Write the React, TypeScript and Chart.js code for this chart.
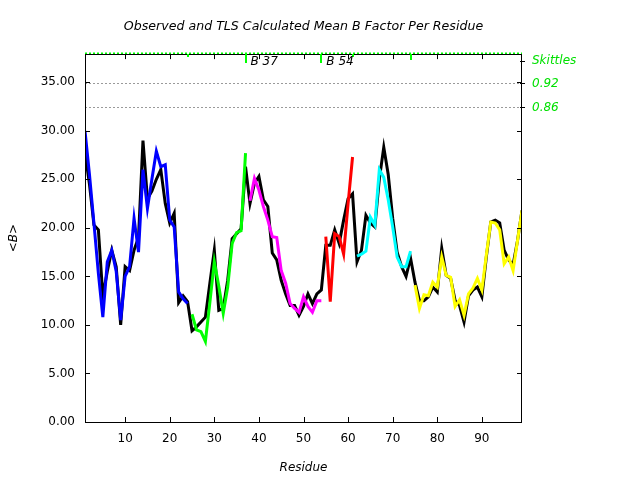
import React, { useEffect, useRef } from "react";
import { Chart, registerables } from "chart.js";

Chart.register(...registerables);

const TITLE = "Observed and TLS Calculated Mean B Factor Per Residue";
const X_TITLE = "Residue";
const Y_TITLE = "<B>";
const X_TICKS = [10, 20, 30, 40, 50, 60, 70, 80, 90];
const Y_TICKS = [0, 5, 10, 15, 20, 25, 30, 35];
const X_MIN = 1;
const X_MAX = 99;
const Y_MIN = 0;
const Y_MAX = 37.9;

// Observed mean B per residue (black), residues 1..99
const OBSERVED_START = 1;
const OBSERVED = [
  27.8, 24.5, 20.3, 19.8, 13.0, 15.5, 17.7, 16.0, 10.0, 16.0,
  15.6, 17.7, 19.0, 29.0, 23.0, 23.8, 25.0, 26.0, 22.5, 20.5,
  21.5, 12.3, 13.0, 12.4, 9.4, 9.8, 10.3, 10.8, 14.3, 17.7,
  11.5, 11.7, 14.6, 18.9, 19.4, 19.9, 26.3, 22.5, 24.6, 25.3,
  22.9, 22.2, 17.4, 16.7, 14.6, 13.2, 12.0, 12.0, 11.0, 11.9,
  13.2, 12.2, 13.2, 13.6, 18.2, 18.2, 19.8, 18.4, 20.8, 23.0,
  23.5, 16.5, 17.7, 21.3, 20.5, 20.1, 25.0, 28.3, 25.5, 21.0,
  17.5, 16.0, 15.0, 16.9, 14.4, 12.5, 12.5, 12.9, 13.9, 13.4,
  17.9, 15.1, 14.8, 12.5, 12.0, 10.3, 13.0, 13.6, 13.9, 12.9,
  17.0, 20.6, 20.8, 20.5, 17.7, 16.7, 16.2, 18.7, 21.8,
];

// TLS calculated mean B, one array per TLS segment
const BLUE_START = 1;
const BLUE = [
  30.0, 25.5, 20.5, 15.3, 10.8, 16.5, 17.7, 15.5, 10.5, 15.0,
  16.0, 21.0, 17.5, 26.0, 22.0, 25.0, 27.9, 26.3, 26.5, 20.8,
  20.1, 13.4, 12.7, 12.2,
];
const GREEN_START = 25;
const GREEN = [11.1, 9.5, 9.3, 8.3, 12.3, 16.5, 14.0, 11.2, 13.9, 18.4, 19.5, 19.7, 27.7];
const MAGENTA_START = 38;
const MAGENTA = [22.8, 25.1, 23.9, 22.2, 20.8, 19.1, 19.0, 15.6, 14.3, 12.2, 11.7, 11.3, 12.9, 11.9, 11.3, 12.5, 12.5];
const RED_START = 55;
const RED = [19.1, 12.4, 19.4, 19.1, 17.3, 22.5, 27.3];
const CYAN_START = 62;
const CYAN = [17.1, 17.3, 17.6, 21.1, 20.3, 26.0, 25.2, 22.9, 20.1, 17.0, 16.0, 16.0, 17.6];
const YELLOW_START = 75;
const YELLOW = [
  14.1, 11.7, 13.1, 13.0, 14.4, 13.9, 17.0, 15.1, 14.9, 11.9,
  12.6, 11.0, 13.2, 13.8, 14.8, 13.6, 17.2, 20.6, 20.5, 19.8,
  16.3, 17.0, 15.6, 18.7, 21.8,
];

// Skittles reference lines and segment boundary markers
const SKITTLES_LABEL = "Skittles";
const SKITTLES_LEVELS = [34.9, 32.5];
const SKITTLES_TEXT = ["0.92", "0.86"];
const MARKER_RESIDUES = [24, 37, 54, 61, 74];
const MARKER_LABELS = ["", "B 37", "B 54", "", ""];
const MARKER_LENGTHS = [3, 9, 9, 3, 6];

const FONT = "DejaVu Sans";
const GREEN_TXT = "#00e000";

const toPoints = (start: number, vals: number[]) => vals.map((v, i) => ({ x: start + i, y: v }));

const decor = {
  id: "decor",
  beforeDatasetsDraw(chart: any) {
    const { ctx, chartArea: a, scales } = chart;
    const y = scales.y;
    ctx.save();
    ctx.strokeStyle = "#9a9a9a";
    ctx.lineWidth = 1;
    ctx.setLineDash([2, 2]);
    SKITTLES_LEVELS.forEach((v) => {
      const py = Math.round(y.getPixelForValue(v)) + 0.5;
      ctx.beginPath();
      ctx.moveTo(a.left, py);
      ctx.lineTo(a.right, py);
      ctx.stroke();
    });
    ctx.restore();
  },
  afterDatasetsDraw(chart: any) {
    const { ctx, chartArea: a, scales } = chart;
    const x = scales.x;
    const y = scales.y;
    ctx.save();
    // green dotted top line (just above the frame)
    ctx.strokeStyle = "#00ff00";
    ctx.lineWidth = 1.5;
    ctx.setLineDash([2, 2]);
    ctx.beginPath();
    ctx.moveTo(a.left, Math.round(a.top) - 0.75);
    ctx.lineTo(a.right, Math.round(a.top) - 0.75);
    ctx.stroke();
    ctx.setLineDash([]);
    // frame
    ctx.strokeStyle = "#000";
    ctx.lineWidth = 1;
    ctx.strokeRect(Math.round(a.left) + 0.5, Math.round(a.top) + 0.5, Math.round(a.right - a.left) - 1, Math.round(a.bottom - a.top));
    // inward ticks
    ctx.beginPath();
    Y_TICKS.forEach((v) => {
      const py = Math.round(y.getPixelForValue(v)) + 0.5;
      ctx.moveTo(a.left, py);
      ctx.lineTo(a.left + 5, py);
      ctx.moveTo(a.right, py);
      ctx.lineTo(a.right - 5, py);
    });
    X_TICKS.forEach((v) => {
      const px = Math.round(x.getPixelForValue(v)) + 0.5;
      ctx.moveTo(px, a.bottom);
      ctx.lineTo(px, a.bottom - 5);
      ctx.moveTo(px, a.top);
      ctx.lineTo(px, a.top + 5);
    });
    // right axis small ticks
    const rightTickYs = [a.top + 7].concat(SKITTLES_LEVELS.map((v) => y.getPixelForValue(v)));
    rightTickYs.forEach((py) => {
      const p = Math.round(py) + 0.5;
      ctx.moveTo(a.right - 2, p);
      ctx.lineTo(a.right + 3, p);
    });
    ctx.stroke();
    // segment markers
    ctx.fillStyle = "#00ff00";
    MARKER_RESIDUES.forEach((m, i) => {
      const px = x.getPixelForValue(m);
      ctx.fillRect(Math.round(px) - 1, Math.round(a.top), 2, MARKER_LENGTHS[i]);
    });
    ctx.font = `italic 12px "${FONT}"`;
    ctx.fillStyle = "#000";
    ctx.textBaseline = "middle";
    ctx.textAlign = "left";
    MARKER_RESIDUES.forEach((m, i) => {
      if (!MARKER_LABELS[i]) return;
      const px = x.getPixelForValue(m);
      ctx.fillText(MARKER_LABELS[i], px + 5, a.top + 8);
    });
    // right labels
    ctx.fillStyle = GREEN_TXT;
    ctx.fillText(SKITTLES_LABEL, a.right + 10, a.top + 7);
    SKITTLES_LEVELS.forEach((v, i) => {
      ctx.fillText(SKITTLES_TEXT[i], a.right + 10, y.getPixelForValue(v) + 1);
    });
    ctx.restore();
  },
};

export default function App() {
  const ref = useRef<HTMLCanvasElement | null>(null);
  useEffect(() => {
    if (!ref.current) return;
    const seg = (label: string, color: string, start: number, vals: number[]) => ({
      label,
      data: toPoints(start, vals),
      borderColor: color,
      backgroundColor: color,
      borderWidth: 3,
      pointRadius: 0,
      tension: 0,
      fill: false,
      order: 1,
    });
    const chart = new Chart(ref.current, {
      type: "line",
      data: {
        datasets: [
          seg("TLS 1", "#0000ff", BLUE_START, BLUE),
          seg("TLS 2", "#00ff00", GREEN_START, GREEN),
          seg("TLS 3", "#ff00ff", MAGENTA_START, MAGENTA),
          seg("TLS 4", "#ff0000", RED_START, RED),
          seg("TLS 5", "#00ffff", CYAN_START, CYAN),
          seg("TLS 6", "#ffff00", YELLOW_START, YELLOW),
          {
            label: "Observed",
            data: toPoints(OBSERVED_START, OBSERVED),
            borderColor: "#000000",
            backgroundColor: "#000000",
            borderWidth: 3,
            pointRadius: 0,
            tension: 0,
            fill: false,
            order: 10,
          },
        ],
      },
      options: {
        responsive: false,
        animation: false,
        events: [],
        layout: { padding: { left: 0, right: 118, top: 0, bottom: 0 } },
        plugins: {
          legend: { display: false },
          tooltip: { enabled: false },
          title: {
            display: true,
            fullSize: false,
            text: TITLE,
            color: "#000",
            font: { family: FONT, size: 12.6, style: "italic", weight: "normal" },
            padding: { top: 19.5, bottom: 19.5 },
          },
        },
        scales: {
          x: {
            type: "linear",
            min: X_MIN,
            max: X_MAX,
            afterBuildTicks: (s: any) => {
              s.ticks = X_TICKS.map((v) => ({ value: v }));
            },
            afterFit: (s: any) => {
              s.height = 58;
            },
            grid: { display: false, drawTicks: false },
            border: { display: false },
            ticks: {
              color: "#000",
              font: { family: FONT, size: 12 },
              padding: 10,
              maxRotation: 0,
              autoSkip: false,
              callback: (v: any) => String(v),
            },
            title: {
              display: true,
              text: X_TITLE,
              color: "#000",
              font: { family: FONT, size: 12, style: "italic" },
              padding: { top: 0, bottom: 5 },
            },
          },
          y: {
            type: "linear",
            min: Y_MIN,
            max: Y_MAX,
            afterBuildTicks: (s: any) => {
              s.ticks = Y_TICKS.map((v) => ({ value: v }));
            },
            afterFit: (s: any) => {
              s.width = 85;
            },
            grid: { display: false, drawTicks: false },
            border: { display: false },
            ticks: {
              color: "#000",
              font: { family: FONT, size: 12 },
              padding: 10,
              callback: (v: any) => Number(v).toFixed(2),
            },
            title: {
              display: true,
              text: Y_TITLE,
              color: "#000",
              font: { family: FONT, size: 12, style: "italic" },
              padding: { top: 7, bottom: 0 },
            },
          },
        },
      },
      plugins: [decor],
    } as any);
    return () => chart.destroy();
  }, []);
  return (
    <div style={{ position: "fixed", left: 0, top: 0, width: 640, height: 480, background: "#fff" }}>
      <canvas ref={ref} width={640} height={480} />
    </div>
  );
}
